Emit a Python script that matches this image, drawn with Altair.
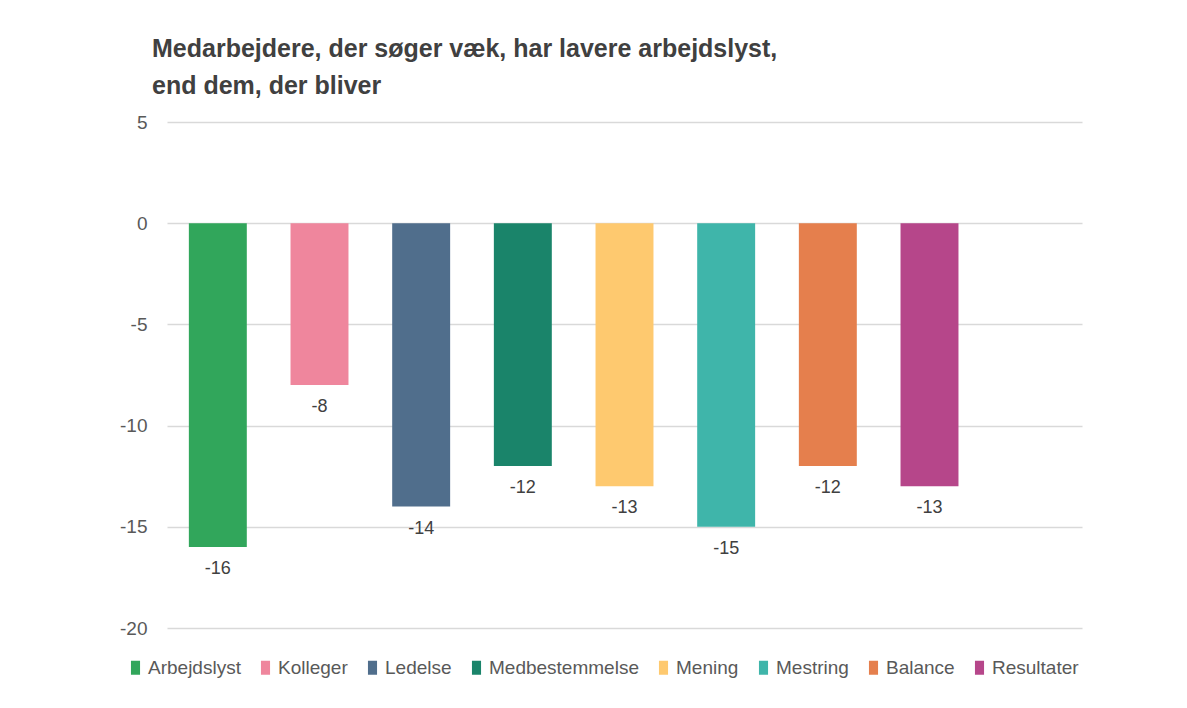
import altair as alt
import pandas as pd

categories = ["Arbejdslyst", "Kolleger", "Ledelse", "Medbestemmelse", "Mening", "Mestring", "Balance", "Resultater"]
values = [-16, -8, -14, -12, -13, -15, -12, -13]
colors = ["#31a65b", "#ef869d", "#506e8c", "#1a846a", "#fec96f", "#3fb5aa", "#e57f4d", "#b6468a"]
y_ticks = [5, 0, -5, -10, -15, -20]
title_lines = ["Medarbejdere, der søger væk, har lavere arbejdslyst,", "end dem, der bliver"]

df = pd.DataFrame({"kategori": categories, "vaerdi": values})
df["etiket"] = [str(v) for v in values]
x_domain = categories + ["_"]

FONT = "Liberation Sans"

x_enc = alt.X("kategori:N", scale=alt.Scale(domain=x_domain, paddingInner=0.43, paddingOuter=0.215), axis=None)
y_scale = alt.Scale(domain=[-20, 5], nice=False)

bars = alt.Chart(df).mark_bar().encode(
    x=x_enc,
    y=alt.Y("vaerdi:Q", scale=y_scale,
            axis=alt.Axis(values=y_ticks, title=None, domain=False, ticks=False,
                          grid=True, gridColor="#d9d9d9", gridWidth=1.3,
                          labelColor="#595959", labelFontSize=19, labelFont=FONT,
                          labelPadding=20, labelExpr="'' + datum.value")),
    y2=alt.datum(0),
    color=alt.Color("kategori:N", scale=alt.Scale(domain=categories, range=colors),
                    legend=alt.Legend(title=None, orient="none", direction="horizontal",
                                      legendX=-41, legendY=536,
                                      columns=8, symbolType="M-0.65,-1L0.65,-1L0.65,1L-0.65,1Z",
                                      symbolSize=196, symbolStrokeWidth=0, labelFontSize=19,
                                      labelFont=FONT, labelColor="#595959", labelOffset=3,
                                      columnPadding=15)),
)

labels = alt.Chart(df).mark_text(baseline="middle", dy=22, fontSize=18, font=FONT, color="#404040").encode(
    x=x_enc,
    y=alt.Y("vaerdi:Q", scale=y_scale),
    text=alt.Text("etiket:N"),
)

chart = alt.layer(bars, labels).properties(
    width=915, height=506,
    title=alt.TitleParams(text=title_lines, anchor="start", frame="group", dx=-15, offset=14, fontSize=25,
                          font=FONT, fontWeight="bold", color="#404040", lineHeight=37),
    padding={"left": 159, "top": 114, "right": 10, "bottom": 70},
    autosize=alt.AutoSizeParams(type="none"),
).configure_view(stroke=None)

chart.save("out.html", embed_options={"renderer": "svg", "actions": False})
